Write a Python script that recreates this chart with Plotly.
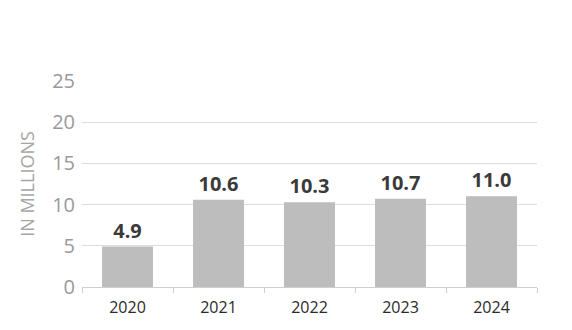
import plotly.graph_objects as go

years = ["2020", "2021", "2022", "2023", "2024"]
values = [4.9, 10.6, 10.3, 10.7, 11.0]
y_ticks = [0, 5, 10, 15, 20, 25]

fig = go.Figure(
    go.Bar(
        x=years,
        y=values,
        marker=dict(color="#bdbdbd", line=dict(width=0)),
        width=0.56,
        text=[f"{v:.1f}" for v in values],
        textposition="outside",
        cliponaxis=False,
        textfont=dict(family="Open Sans", size=20, color="#3a3a3a", weight="bold"),
    )
)

fig.update_layout(
    width=572,
    height=330,
    margin=dict(l=82, r=35, t=81, b=43),
    paper_bgcolor="white",
    plot_bgcolor="white",
    showlegend=False,
    font=dict(family="Open Sans"),
    xaxis=dict(
        type="category",
        tickson="boundaries",
        ticks="outside",
        ticklen=5,
        tickcolor="#d0d0d0",
        showgrid=False,
        showline=False,
        ticklabelstandoff=9,
        tickfont=dict(size=16, color="#2a2a2a"),
    ),
    yaxis=dict(
        range=[0, 25],
        tickvals=y_ticks,
        showgrid=True,
        gridcolor="#dcdcdc",
        gridwidth=1,
        zeroline=True,
        zerolinecolor="#cfcfcf",
        zerolinewidth=1,
        tickfont=dict(size=20, color="#9a9a9a"),
        ticks="",
        ticklabelstandoff=6,
        title=dict(text="IN MILLIONS", font=dict(size=18, color="#a6a6a6"), standoff=12),
    ),
)

fig.write_html("out.html")
